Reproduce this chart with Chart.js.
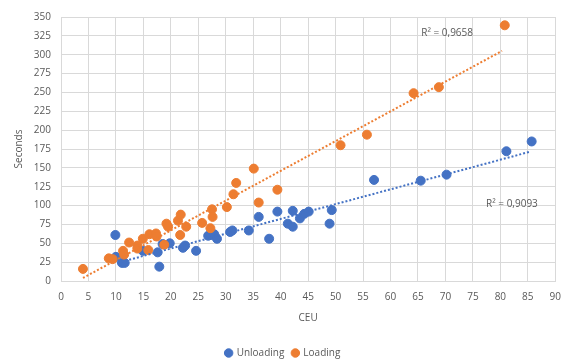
<!DOCTYPE html>
<html lang="en">
<head>
    <meta charset="UTF-8">
    <title>CEU vs Seconds</title>
    <script src="https://cdn.jsdelivr.net/npm/chart.js"></script>
    <style>
        html, body { margin: 0; padding: 0; background: #fff; }
        .wrapper { width: 571px; height: 359px; position: relative; }
    </style>
</head>
<body>
    <div class="wrapper">
        <canvas id="ceuChart"></canvas>
    </div>

    <script>
        // values
        const unloadingCEU = [9.9, 10.0, 11.1, 11.6, 14.9, 17.6, 17.9, 18.5, 19.8, 22.2, 22.6, 24.6, 26.8, 27.3, 27.9, 28.4, 30.8, 31.2, 34.2, 36.0, 37.9, 39.4, 41.3, 42.2, 42.2, 43.5, 44.3, 45.1, 48.9, 49.3, 57.0, 65.5, 70.2, 81.1, 85.7];
        const unloadingSec = [61, 32, 24, 24, 40, 38, 19, 49, 50, 44, 47, 40, 60, 61, 62, 56, 65, 67, 67, 85, 56, 92, 76, 72, 93, 83, 89, 92, 76, 94, 134, 133, 141, 172, 185];

        const loadingCEU = [4.0, 8.7, 9.4, 11.3, 11.5, 12.4, 13.9, 13.9, 14.9, 15.9, 16.1, 17.3, 17.4, 18.8, 19.2, 19.5, 21.3, 21.7, 21.8, 22.8, 25.7, 27.2, 27.5, 27.6, 30.2, 31.4, 31.9, 35.1, 36.0, 39.4, 50.9, 55.7, 64.2, 68.8, 80.8];
        const loadingSec = [16, 30, 29, 40, 35, 51, 47, 43, 56, 41, 62, 63, 59, 48, 76, 72, 80, 61, 88, 72, 77, 70, 95, 85, 98, 115, 130, 149, 104, 121, 180, 194, 249, 257, 339];

        // trendline end points (as drawn in the reference)
        const unloadingTrendX = [10.3, 85.2];
        const unloadingTrendY = [24, 171];
        const loadingTrendX = [4.0, 80.3];
        const loadingTrendY = [4, 305];

        const rSquaredText = ['R² = 0,9093', 'R² = 0,9658'];
        const rSquaredX = [77.4, 65.6];
        const rSquaredY = [102.5, 329];

        const blue = '#4472C4';
        const orange = '#ED7D31';
        const grey = '#595959';

        const toPoints = (xs, ys) => xs.map((x, i) => ({ x: x, y: ys[i] }));

        const rSquaredLabels = {
            id: 'rSquaredLabels',
            afterDatasetsDraw(chart) {
                const ctx = chart.ctx;
                const xs = chart.scales.x, ys = chart.scales.y;
                ctx.save();
                ctx.font = '10px "Open Sans"';
                ctx.fillStyle = grey;
                ctx.textAlign = 'left';
                ctx.textBaseline = 'middle';
                rSquaredText.forEach((t, i) => {
                    ctx.fillText(t, xs.getPixelForValue(rSquaredX[i]), ys.getPixelForValue(rSquaredY[i]));
                });
                ctx.restore();
            }
        };

        // nudge the legend down towards the bottom edge
        const legendNudge = {
            id: 'legendNudge',
            afterLayout(chart) {
                const l = chart.legend;
                l.top += 9;
                l.bottom += 9;
            }
        };

        const ctx = document.getElementById('ceuChart').getContext('2d');
        new Chart(ctx, {
            type: 'scatter',
            data: {
                datasets: [
                    {
                        label: 'Unloading',
                        data: toPoints(unloadingCEU, unloadingSec),
                        backgroundColor: blue,
                        borderColor: blue,
                        pointRadius: 4.5,
                        order: 2
                    },
                    {
                        label: 'Loading',
                        data: toPoints(loadingCEU, loadingSec),
                        backgroundColor: orange,
                        borderColor: orange,
                        pointRadius: 4.5,
                        order: 1
                    },
                    {
                        label: 'trend-unloading',
                        data: toPoints(unloadingTrendX, unloadingTrendY),
                        showLine: true,
                        borderColor: blue,
                        borderWidth: 2,
                        borderDash: [2, 2],
                        pointRadius: 0,
                        order: 0
                    },
                    {
                        label: 'trend-loading',
                        data: toPoints(loadingTrendX, loadingTrendY),
                        showLine: true,
                        borderColor: orange,
                        borderWidth: 2,
                        borderDash: [2, 2],
                        pointRadius: 0,
                        order: 0
                    }
                ]
            },
            options: {
                responsive: true,
                maintainAspectRatio: false,
                animation: false,
                layout: {
                    padding: { top: 17, right: 7, left: 2, bottom: 0 }
                },
                scales: {
                    x: {
                        type: 'linear',
                        min: 0,
                        max: 90,
                        afterFit: s => { s.height = 50; },
                        ticks: { stepSize: 5, color: grey, padding: 10, font: { family: 'Open Sans', size: 10 } },
                        grid: { color: '#d9d9d9', drawTicks: false },
                        border: { color: '#d9d9d9' },
                        title: {
                            display: true,
                            text: 'CEU',
                            color: grey,
                            font: { family: 'Open Sans', size: 10 },
                            padding: { top: 0, bottom: 7 }
                        }
                    },
                    y: {
                        min: 0,
                        max: 350,
                        afterFit: s => { s.width = 59; },
                        ticks: { stepSize: 25, color: grey, padding: 10, font: { family: 'Open Sans', size: 10 } },
                        grid: { color: '#d9d9d9', drawTicks: false },
                        border: { color: '#d9d9d9' },
                        title: {
                            display: true,
                            text: 'Seconds',
                            color: grey,
                            font: { family: 'Open Sans', size: 10 },
                            padding: { top: 11, bottom: 0 }
                        }
                    }
                },
                plugins: {
                    legend: {
                        position: 'bottom',
                        labels: {
                            color: grey,
                            font: { family: 'Open Sans', size: 10 },
                            usePointStyle: true,
                            pointStyle: 'circle',
                            boxWidth: 6,
                            boxHeight: 6,
                            padding: 8,
                            filter: item => !item.text.startsWith('trend'),
                            sort: (a, b) => a.datasetIndex - b.datasetIndex
                        }
                    },
                    tooltip: { enabled: false }
                }
            },
            plugins: [rSquaredLabels, legendNudge]
        });
    </script>
</body>
</html>
